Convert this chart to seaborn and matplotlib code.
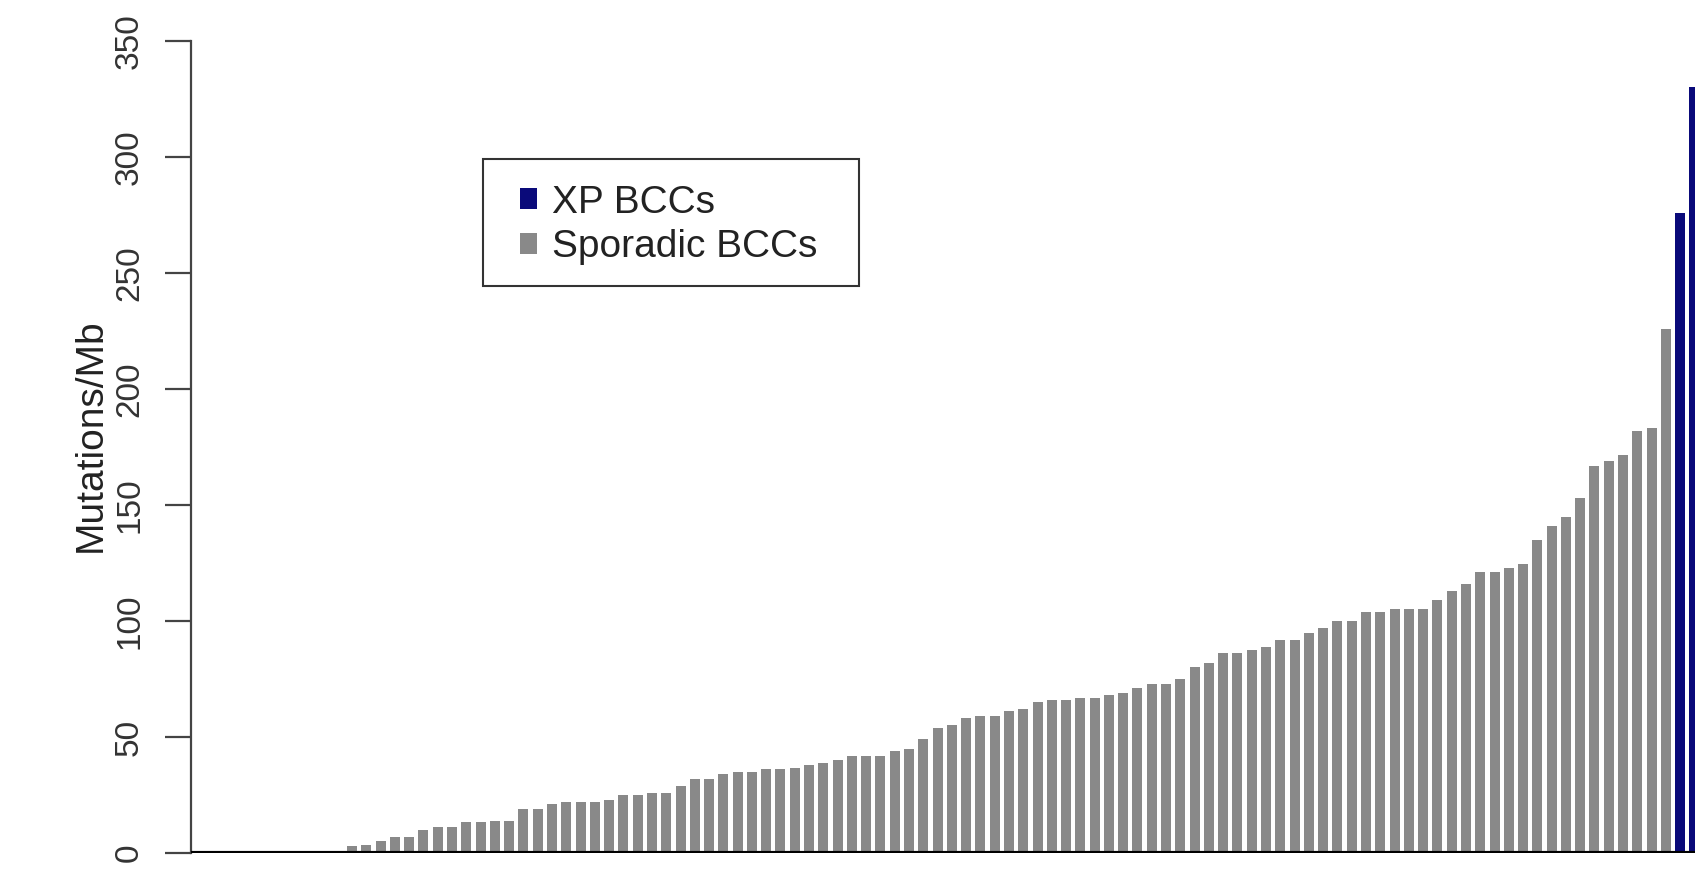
import matplotlib
matplotlib.use("Agg")
import matplotlib.pyplot as plt
import seaborn as sns
import pandas as pd
from matplotlib.patches import Patch, Rectangle

# Sorted tumour mutation burden (Mutations/Mb)
sporadic_values = [1, 1, 1, 1,
                   3, 3.5, 5, 7, 7, 10, 11, 11, 13.5, 13.5, 14, 14, 19, 19, 21, 22,
                   22, 22, 23, 25, 25, 26, 26, 29, 32, 32, 34, 35, 35, 36, 36, 36.5,
                   38, 39, 40, 42, 42, 42, 44, 45, 49, 54, 55, 58, 59, 59, 61, 62,
                   65, 66, 66, 67, 67, 68, 69, 71, 73, 73, 75, 80, 82, 86, 86, 87.5,
                   89, 92, 92, 95, 97, 100, 100, 104, 104, 105, 105, 105, 109, 113,
                   116, 121, 121, 123, 124.5, 135, 141, 145, 153, 167, 169, 171.5,
                   182, 183, 226]
xp_values = [276, 330]
group_labels = ["XP BCCs", "Sporadic BCCs"]
y_ticks = [0, 50, 100, 150, 200, 250, 300, 350]
y_label = "Mutations/Mb"

values = sporadic_values + xp_values
groups = ["Sporadic BCCs"] * len(sporadic_values) + ["XP BCCs"] * len(xp_values)
df = pd.DataFrame({"sample": [str(i) for i in range(len(values))],
                   "value": values, "group": groups})

navy = "#0a0a7a"
grey = "#898989"

sns.set_style("white")
plt.rcParams["font.family"] = ["Liberation Sans", "DejaVu Sans"]

fig = plt.figure(figsize=(16.95, 8.71), dpi=100)
ax = fig.add_axes([191 / 1695, 18 / 871, 1504 / 1695, 853 / 871])

sns.barplot(data=df, x="sample", y="value", hue="group",
            palette={"Sporadic BCCs": grey, "XP BCCs": navy},
            dodge=False, width=0.7, legend=False, ax=ax,
            order=df["sample"].tolist(), linewidth=0, saturation=1)

ax.set_xlim(-7.28, 98.04)
ax.set_ylim(0, 367.7)
ax.set_xticks([])
ax.set_xlabel("")

for s in ["top", "right", "bottom"]:
    ax.spines[s].set_visible(False)
ax.spines["left"].set_bounds(0, 350)
ax.spines["left"].set_color("#444444")
ax.spines["left"].set_linewidth(1.6)
ax.axhline(0, color="black", lw=3, zorder=5)

ax.set_yticks(y_ticks)
ax.set_yticklabels([str(t) for t in y_ticks], rotation=90, va="center")
ax.tick_params(axis="y", left=True, length=19, width=1.6, color="#444444",
               pad=14, labelsize=24, labelcolor="#333333")

ax.set_ylabel(y_label, fontsize=28, color="#222222")
ax.yaxis.set_label_coords((91 - 191) / 1504, 1 - 435 / 853)
ax.yaxis.label.set_verticalalignment("center")

# legend frame (box) and entries
box = Rectangle(((483 - 191) / 1504, 1 - 286 / 853),
                (859 - 483) / 1504, (286 - 159) / 853,
                transform=ax.transAxes, facecolor="white",
                edgecolor="#333333", linewidth=1.5, zorder=6)
ax.add_patch(box)

handles = [Patch(facecolor=navy, edgecolor="none"),
           Patch(facecolor=grey, edgecolor="none")]
leg = ax.legend(handles, group_labels, loc="center left",
                bbox_to_anchor=((520 - 191) / 1504, 1 - 225 / 853),
                borderaxespad=0, borderpad=0, fontsize=28, frameon=False,
                handlelength=0.44, handleheight=0.44, handletextpad=0.39,
                labelspacing=0.23)
leg.set_zorder(7)
for t in leg.get_texts():
    t.set_color("#222222")

fig.savefig("out.png", dpi=100)
